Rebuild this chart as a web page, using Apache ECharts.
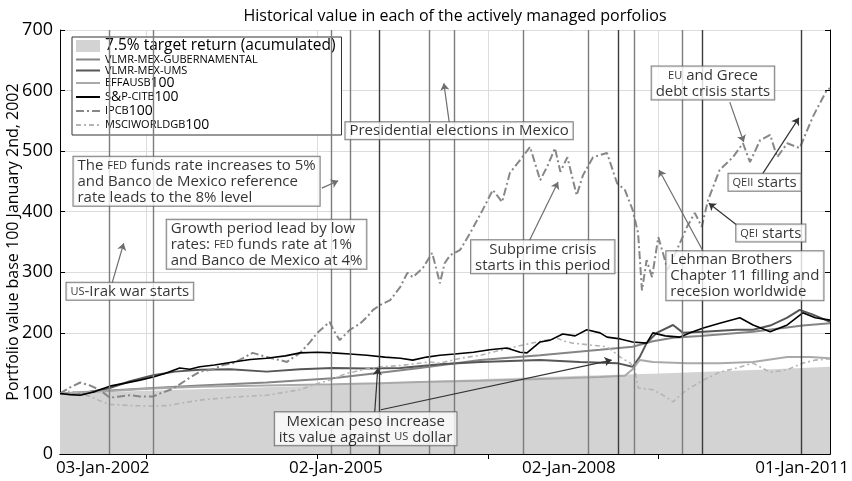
<!DOCTYPE html>
<html lang="en">
<head>
    <meta charset="UTF-8">
    <title>Historical value in each of the actively managed porfolios</title>
    <script src="https://cdn.jsdelivr.net/npm/echarts@6/dist/echarts.min.js"></script>
</head>
<style>
    body { margin: 0; background: #fff; }
    #chart { width: 852px; height: 481px; }
</style>
<body>
    <div id="chart"></div>
<script>
    // x values are fractional years
    var xMin = 2001.45, xMax = 2011.36;
    var labelYears = [2002.0, 2005.0, 2008.0, 2011.0];
    var labelTexts = ['03-Jan-2002', '02-Jan-2005', '02-Jan-2008', '01-Jan-2011'];
    var gridYears = [2002.56, 2004.76, 2006.96, 2009.15];

    var targetYears = [2001.45, 2002.99, 2004.54, 2006.08, 2007.63, 2009.17, 2010.46, 2011.36];
    var targetValues = [100, 106, 112, 120, 127, 133, 139, 144];

    var guberYears = [2001.45, 2002.09, 2002.65, 2003.25, 2004.11, 2004.96, 2005.57, 2006.08, 2006.86, 2007.63, 2008.40, 2008.82, 2009.08, 2009.34, 2009.69, 2010.37, 2011.01, 2011.36];
    var guberValues = [100, 105, 109, 113, 118, 125, 134, 142, 155, 163, 172, 177, 186, 192, 195, 202, 212, 216];

    var umsYears = [2001.45, 2001.71, 2001.90, 2002.09, 2002.35, 2002.65, 2002.93, 2003.25, 2003.64, 2004.11, 2004.54, 2004.96, 2005.40, 2005.83, 2006.34, 2006.86, 2007.63, 2008.14, 2008.62, 2008.82, 2008.91, 2009.00, 2009.13, 2009.34, 2009.47, 2009.73, 2010.16, 2010.37, 2010.59, 2010.81, 2010.97, 2011.14, 2011.36];
    var umsValues = [100, 100, 104, 109, 120, 130, 136, 139, 140, 136, 140, 142, 141, 142, 148, 152, 155, 152, 150, 144, 160, 183, 200, 213, 200, 202, 205, 205, 212, 225, 238, 230, 218];

    var effaYears = [2001.45, 2002.09, 2002.65, 2003.25, 2004.11, 2004.96, 2005.57, 2006.08, 2006.86, 2007.63, 2008.40, 2008.72, 2008.82, 2008.91, 2009.08, 2009.52, 2009.94, 2010.37, 2010.81, 2011.10, 2011.36];
    var effaValues = [100, 104, 108, 111, 113, 115, 117, 119, 121, 124, 127, 129, 140, 155, 152, 150, 150, 152, 160, 160, 158];

    var spYears = [2001.45, 2001.58, 2001.71, 2001.90, 2002.09, 2002.29, 2002.48, 2002.65, 2002.80, 2002.99, 2003.12, 2003.25, 2003.44, 2003.68, 2003.90, 2004.11, 2004.35, 2004.54, 2004.76, 2004.96, 2005.18, 2005.40, 2005.63, 2005.83, 2005.99, 2006.17, 2006.34, 2006.53, 2006.77, 2006.98, 2007.20, 2007.37, 2007.46, 2007.63, 2007.76, 2007.92, 2008.08, 2008.23, 2008.40, 2008.49, 2008.66, 2008.82, 2009.00, 2009.08, 2009.24, 2009.43, 2009.56, 2009.73, 2009.94, 2010.20, 2010.37, 2010.59, 2010.81, 2011.01, 2011.17, 2011.36];
    var spValues = [100, 98, 97, 103, 112, 117, 122, 127, 133, 142, 140, 144, 147, 152, 156, 158, 162, 167, 168, 167, 165, 163, 160, 158, 155, 160, 163, 165, 168, 172, 175, 168, 167, 185, 188, 198, 195, 205, 200, 193, 190, 185, 183, 200, 195, 193, 200, 208, 216, 225, 213, 202, 213, 233, 225, 221];

    var ipcYears = [2001.45, 2001.58, 2001.71, 2001.84, 2001.96, 2002.09, 2002.22, 2002.35, 2002.48, 2002.65, 2002.74, 2002.87, 2002.99, 2003.12, 2003.25, 2003.42, 2003.55, 2003.68, 2003.83, 2003.93, 2004.11, 2004.28, 2004.37, 2004.54, 2004.67, 2004.76, 2004.92, 2004.99, 2005.05, 2005.18, 2005.31, 2005.40, 2005.48, 2005.57, 2005.70, 2005.83, 2005.92, 2005.99, 2006.12, 2006.24, 2006.34, 2006.40, 2006.47, 2006.60, 2006.73, 2006.89, 2007.02, 2007.14, 2007.24, 2007.40, 2007.50, 2007.63, 2007.73, 2007.82, 2007.89, 2007.98, 2008.10, 2008.18, 2008.31, 2008.49, 2008.62, 2008.72, 2008.82, 2008.89, 2008.94, 2009.00, 2009.07, 2009.15, 2009.21, 2009.27, 2009.39, 2009.52, 2009.62, 2009.71, 2009.79, 2009.94, 2010.11, 2010.24, 2010.33, 2010.46, 2010.59, 2010.68, 2010.81, 2010.97, 2011.14, 2011.32, 2011.36];
    var ipcValues = [100, 110, 118, 113, 106, 93, 95, 97, 95, 95, 100, 106, 115, 126, 136, 140, 147, 150, 160, 167, 160, 155, 152, 167, 185, 200, 218, 200, 188, 205, 215, 226, 238, 246, 254, 276, 299, 292, 307, 332, 282, 315, 328, 337, 365, 403, 436, 416, 464, 490, 507, 452, 477, 505, 466, 490, 427, 460, 490, 497, 447, 436, 403, 365, 270, 320, 292, 358, 332, 304, 337, 375, 398, 375, 419, 469, 490, 513, 482, 518, 527, 490, 513, 505, 557, 601, 604];

    var msciYears = [2001.45, 2001.58, 2001.71, 2001.84, 2001.96, 2002.09, 2002.35, 2002.65, 2002.83, 2003.25, 2003.68, 2004.11, 2004.54, 2004.73, 2004.92, 2005.14, 2005.38, 2005.57, 2005.83, 2006.21, 2006.34, 2006.60, 2006.86, 2006.98, 2007.24, 2007.41, 2007.63, 2007.85, 2007.95, 2008.05, 2008.27, 2008.49, 2008.66, 2008.79, 2008.85, 2008.89, 2009.08, 2009.24, 2009.34, 2009.43, 2009.52, 2009.73, 2009.94, 2010.16, 2010.37, 2010.59, 2010.81, 2011.01, 2011.17, 2011.36];
    var msciValues = [100, 104, 100, 95, 88, 82, 80, 79, 80, 89, 94, 97, 106, 115, 122, 133, 140, 144, 146, 152, 150, 158, 163, 167, 175, 180, 186, 191, 186, 183, 180, 177, 160, 150, 139, 109, 106, 95, 86, 97, 106, 122, 135, 142, 150, 135, 139, 150, 155, 157];

    // vertical event lines
    var eventYears = [2002.09, 2002.65, 2004.94, 2005.18, 2005.56, 2006.20, 2006.52, 2007.41, 2008.25, 2008.64, 2008.84, 2009.46, 2009.71, 2010.99];
    var eventDark = [false, false, false, false, true, false, false, false, false, true, false, false, true, true];

    // text boxes: anchor (top-left or top-centre), text and arrows
    var notes = [
        {x: 2001.54, y: 282, align: 'left', text: '{sc|US}-Irak war starts'},
        {x: 2001.63, y: 490, align: 'left', text: 'The {sc|FED} funds rate increases to 5%\nand Banco de Mexico reference\nrate leads to the 8% level'},
        {x: 2002.83, y: 386, align: 'left', text: 'Growth period lead by low\nrates: {sc|FED} funds rate at 1%\nand Banco de Mexico at 4%'},
        {x: 2005.13, y: 547, align: 'left', text: 'Presidential elections in Mexico'},
        {x: 2007.67, y: 352, align: 'center', text: '{c|Subprime crisis}\n{c|starts in this period}'},
        {x: 2009.26, y: 334, align: 'left', text: 'Lehman Brothers\nChapter 11 filling and\nrecesion worldwide'},
        {x: 2010.16, y: 378, align: 'left', text: '{sc|QEI} starts'},
        {x: 2010.06, y: 462, align: 'left', text: '{sc|QEII} starts'},
        {x: 2009.86, y: 639, align: 'center', text: '{csc|EU}{c| and Grece}\n{c|debt crisis starts}'},
        {x: 2005.39, y: 68, align: 'center', text: '{c|Mexican peso increase}\n{c|its value against }{csc|US}{c| dollar}'}
    ];
    var arrows = [
        {from: [2002.12, 282], to: [2002.27, 348], dark: false},
        {from: [2004.82, 439], to: [2005.03, 451], dark: false},
        {from: [2006.46, 547], to: [2006.39, 612], dark: false},
        {from: [2007.49, 352], to: [2007.86, 449], dark: false},
        {from: [2009.73, 334], to: [2009.16, 469], dark: false},
        {from: [2010.16, 378], to: [2009.80, 414], dark: true},
        {from: [2010.49, 462], to: [2010.96, 555], dark: true},
        {from: [2010.07, 581], to: [2010.25, 515], dark: false},
        {from: [2005.50, 68], to: [2005.54, 142], dark: true},
        {from: [2005.58, 73], to: [2008.55, 155], dark: true}
    ];

    var legendRich = {
        '7.5% target return (acumulated)': '{big|7.5% target return (acumulated)}',
        'VLMR-MEX-GUBERNAMENTAL': '{sc|VLMR-MEX-GUBERNAMENTAL}',
        'VLMR-MEX-UMS': '{sc|VLMR-MEX-UMS}',
        'EFFAUSB100': '{sc|EFFAUSB}{num|100}',
        'S&P-CITB100': '{sc|S}{num|&}{sc|P-CITB}{num|100}',
        'IPCB100': '{sc|IPCB}{num|100}',
        'MSCIWORLDGB100': '{sc|MSCIWORLDGB}{num|100}'
    };

    var font = 'Open Sans';

    function pairs(xs, ys) {
        return xs.map(function (x, i) { return [x, ys[i]]; });
    }
    function lineSeries(name, xs, ys, color, width, type) {
        return {
            name: name, type: 'line', data: pairs(xs, ys), symbol: 'none', z: 3,
            itemStyle: {color: color},
            lineStyle: {color: color, width: width, type: type || 'solid'}
        };
    }

    var chart = echarts.init(document.getElementById('chart'), null, {renderer: 'canvas'});
    var option = {
        animation: false,
        backgroundColor: '#fff',
        textStyle: {fontFamily: font},
        title: {
            text: 'Historical value in each of the actively managed porfolios',
            left: 450, top: 3, textAlign: 'center',
            textStyle: {fontFamily: font, fontSize: 16, fontWeight: 'normal', color: '#000'}
        },
        grid: {left: 60, right: 22, top: 30, bottom: 27, show: false, containLabel: false, outerBoundsMode: 'none'},
        legend: {
            orient: 'vertical', left: 72, top: 37,
            backgroundColor: '#fff', borderColor: '#333', borderWidth: 1,
            padding: [1, 6, 3, 3], itemGap: 0, itemWidth: 24, itemHeight: 12,
            itemStyle: {opacity: 0},
            data: [
                {name: '7.5% target return (acumulated)', icon: 'rect', itemStyle: {opacity: 1, color: '#d3d3d3'}},
                'VLMR-MEX-GUBERNAMENTAL', 'VLMR-MEX-UMS', 'EFFAUSB100', 'S&P-CITB100', 'IPCB100', 'MSCIWORLDGB100'
            ],
            formatter: function (name) { return legendRich[name]; },
            textStyle: {
                fontFamily: font, color: '#000',
                rich: {
                    big: {fontSize: 15.5, lineHeight: 15, color: '#000', fontFamily: font},
                    sc: {fontSize: 11, lineHeight: 12, color: '#000', fontFamily: font},
                    num: {fontSize: 14, lineHeight: 12, color: '#000', fontFamily: font}
                }
            }
        },
        xAxis: [{
            type: 'value', min: xMin, max: xMax, position: 'bottom',
            axisLine: {lineStyle: {color: '#000', width: 1}},
            axisTick: {inside: true, length: 5, customValues: gridYears, lineStyle: {color: '#000'}},
            axisLabel: {
                customValues: labelYears, color: '#000', fontSize: 17, fontFamily: font, margin: 6,
                formatter: function (v) {
                    var i = labelYears.indexOf(v);
                    return i < 0 ? '' : labelTexts[i];
                }
            },
            splitLine: {show: true, lineStyle: {color: '#dcdcdc', width: 1}}
        }, {
            type: 'value', min: xMin, max: xMax, position: 'top',
            axisLine: {lineStyle: {color: '#000', width: 1}},
            axisTick: {inside: true, length: 5, customValues: gridYears, lineStyle: {color: '#000'}},
            axisLabel: {show: false},
            splitLine: {show: false}
        }],
        yAxis: [{
            type: 'value', min: 0, max: 700, interval: 100,
            name: 'Portfolio value base 100 January 2nd, 2002',
            nameLocation: 'middle', nameGap: 39, nameMoveOverlap: false,
            nameTextStyle: {fontFamily: font, fontSize: 16, color: '#000'},
            axisLine: {show: true, lineStyle: {color: '#000', width: 1}},
            axisTick: {show: true, inside: true, length: 5, lineStyle: {color: '#000'}},
            axisLabel: {color: '#000', fontSize: 18, fontFamily: font, margin: 7},
            splitLine: {show: true, lineStyle: {color: '#dcdcdc', width: 1}}
        }, {
            type: 'value', min: 0, max: 700, interval: 100, position: 'right',
            axisLine: {show: true, lineStyle: {color: '#000', width: 1}},
            axisTick: {show: true, inside: true, length: 5, lineStyle: {color: '#000'}},
            axisLabel: {show: false},
            splitLine: {show: false}
        }],
        series: [
            {
                name: '7.5% target return (acumulated)', type: 'line', data: pairs(targetYears, targetValues),
                symbol: 'none', z: 1,
                itemStyle: {color: '#d3d3d3'},
                lineStyle: {width: 0, color: '#d3d3d3'},
                areaStyle: {color: '#d3d3d3', opacity: 1},
                markLine: {
                    silent: true, symbol: 'none', label: {show: false},
                    data: eventYears.map(function (yr, i) {
                        return {xAxis: yr, lineStyle: {color: eventDark[i] ? '#3c3c3c' : '#7c7c7c', width: 1.4, type: 'solid'}};
                    })
                }
            },
            lineSeries('VLMR-MEX-GUBERNAMENTAL', guberYears, guberValues, '#858585', 2),
            lineSeries('VLMR-MEX-UMS', umsYears, umsValues, '#575757', 2),
            lineSeries('EFFAUSB100', effaYears, effaValues, '#a9a9a9', 2),
            lineSeries('MSCIWORLDGB100', msciYears, msciValues, '#b4b4b4', 1.6, [5, 3, 2, 3]),
            lineSeries('IPCB100', ipcYears, ipcValues, '#878787', 2, [8, 3, 2, 3]),
            lineSeries('S&P-CITB100', spYears, spValues, '#000000', 1.6),
            {
                name: 'notes', type: 'scatter', z: 10, symbolSize: 1,
                itemStyle: {color: 'rgba(0,0,0,0)'},
                data: notes.map(function (n) {
                    return {
                        value: [n.x, n.y],
                        label: {
                            show: true, position: [0, 0], align: n.align, verticalAlign: 'top',
                            formatter: n.text, fontFamily: font, fontSize: 15, lineHeight: 16, color: '#000',
                            backgroundColor: '#fff', borderColor: '#5a5a5a', borderWidth: 1, padding: [1, 4, 0, 4],
                            rich: {
                                sc: {fontSize: 11, fontFamily: font, color: '#000'},
                                c: {fontSize: 15, lineHeight: 16, align: 'center', fontFamily: font, color: '#000'},
                                csc: {fontSize: 11, lineHeight: 16, align: 'center', fontFamily: font, color: '#000'}
                            }
                        }
                    };
                }),
                markLine: {
                    silent: true, symbol: ['none', 'arrow'], symbolSize: 7, label: {show: false},
                    data: arrows.map(function (a) {
                        return [
                            {coord: a.from, lineStyle: {color: a.dark ? '#333' : '#6e6e6e', width: 1.2, type: 'solid'}},
                            {coord: a.to}
                        ];
                    })
                }
            }
        ]
    };
    chart.setOption(option);
</script>
</body>
</html>
